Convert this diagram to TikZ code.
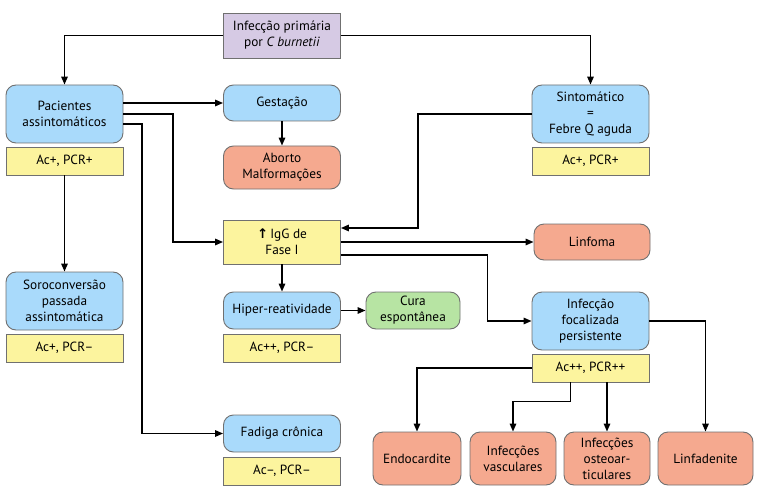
\documentclass[tikz,border=0pt]{standalone}
\usepackage{fontspec}
\setmainfont{PT Sans}
\newfontfamily\symfont{DejaVu Sans}
\usetikzlibrary{arrows.meta}
\definecolor{cblue}{HTML}{A9DAFB}
\definecolor{csalmon}{HTML}{F5A98F}
\definecolor{cyellow}{HTML}{FCF49E}
\definecolor{cgreen}{HTML}{B7E4A3}
\definecolor{cpurple}{HTML}{D6CAE4}
\definecolor{cborder}{HTML}{707070}
\begin{document}
\begin{tikzpicture}[x=1pt,y=-1pt,
  font=\fontsize{13.3}{16}\selectfont,
  box/.style={draw=cborder, line width=0.9pt, minimum width=117pt, align=center, inner sep=0pt},
  rbox/.style={box, rounded corners=10pt},
  bluebox/.style={rbox, fill=cblue},
  redbox/.style={rbox, fill=csalmon},
  tagbox/.style={box, fill=cyellow, minimum height=28pt},
  arr/.style={-{Triangle[length=8pt,width=6.5pt]}, line width=1.5pt},
]
\useasboundingbox (0,0) rectangle (760,492);

\node[box, fill=cpurple, minimum height=45pt] (inf) at (282,35.5) {Infecção primária\\por \textit{C burnetii}};

\node[bluebox, minimum height=58pt] (pac) at (64.5,114) {Pacientes\\assintomáticos};
\node[tagbox] (tag1) at (64.5,161) {Ac+, PCR+};

\node[bluebox, minimum height=36pt] (gest) at (282,103) {Gestação};
\node[redbox, minimum height=43pt] (abo) at (282,167.5) {Aborto\\Malformações};

\node[bluebox, minimum height=58pt] (sint) at (590.5,114) {Sintomático\\=\\Febre Q aguda};
\node[tagbox] (tag2) at (590.5,161) {Ac+, PCR+};

\node[box, fill=cyellow, minimum height=44pt] (igg) at (282,242) {{\symfont\bfseries ↑}\,IgG de\\Fase I};
\node[redbox, minimum height=36pt, minimum width=116pt] (linf) at (592,242) {Linfoma};

\node[bluebox, minimum height=58pt] (soro) at (64.5,301) {Soroconversão\\passada\\assintomática};
\node[tagbox] (tag3) at (64.5,348) {Ac+, PCR–};

\node[bluebox, minimum height=37pt] (hip) at (282,310.5) {Hiper-reatividade};
\node[tagbox] (tag5) at (282,348) {Ac++, PCR–};

\node[rbox, fill=cgreen, minimum height=37pt, minimum width=94pt] (cura) at (413,310.5) {Cura\\espontânea};

\node[bluebox, minimum height=58pt] (foc) at (590.5,321) {Infecção\\focalizada\\persistente};
\node[tagbox] (tag4) at (590.5,368) {Ac++, PCR++};

\node[bluebox, minimum height=37pt] (fad) at (282,433.5) {Fadiga crônica};
\node[tagbox] (tag6) at (282,471) {Ac–, PCR–};

\node[redbox, minimum height=53pt, minimum width=88pt] (endo) at (417,458.5) {Endocardite};
\node[redbox, minimum height=53pt, minimum width=86pt] (vasc) at (513,458.5) {Infecções\\vasculares};
\node[redbox, minimum height=53pt, minimum width=86pt] (ost) at (607,458.5) {Infecções\\osteoar-\\ticulares};
\node[redbox, minimum height=53pt, minimum width=95pt] (lfd) at (705.5,458.5) {Linfadenite};

% connectors
\draw[arr] (inf.west) -| (pac.north);
\draw[arr] (inf.east) -| (sint.north);
\draw[arr] (pac.east |- gest.west) -- (gest.west);
\draw[arr] (pac.east) -| ([xshift=-50pt]igg.west) -- (igg.west);
\draw[arr] ([yshift=-10pt]pac.east) -| ([xshift=-81pt]fad.west) -- (fad.west);
\draw[arr] (gest.south) -- (abo.north);
\draw[arr] (tag1.south) -- (soro.north);
\draw[arr] (sint.west) -| ([xshift=77pt,yshift=14pt]igg.east) -- ([yshift=14pt]igg.east);
\draw[arr] (igg.east) -- (linf.west);
\draw[arr] ([yshift=-13pt]igg.east) -| ([xshift=-44pt]foc.west) -- (foc.west);
\draw[arr] (igg.south) -- (hip.north);
\draw[arr] (hip.east) -- (cura.west);
\draw[arr] (foc.east) -| (lfd.north);
\draw[arr] (tag4.west) -| (endo.north);
\draw[arr] ([xshift=-20pt]tag4.south) -- ++(0,19) -| (vasc.north);
\draw[arr] (ost.north |- tag4.south) -- (ost.north);
\end{tikzpicture}
\end{document}
